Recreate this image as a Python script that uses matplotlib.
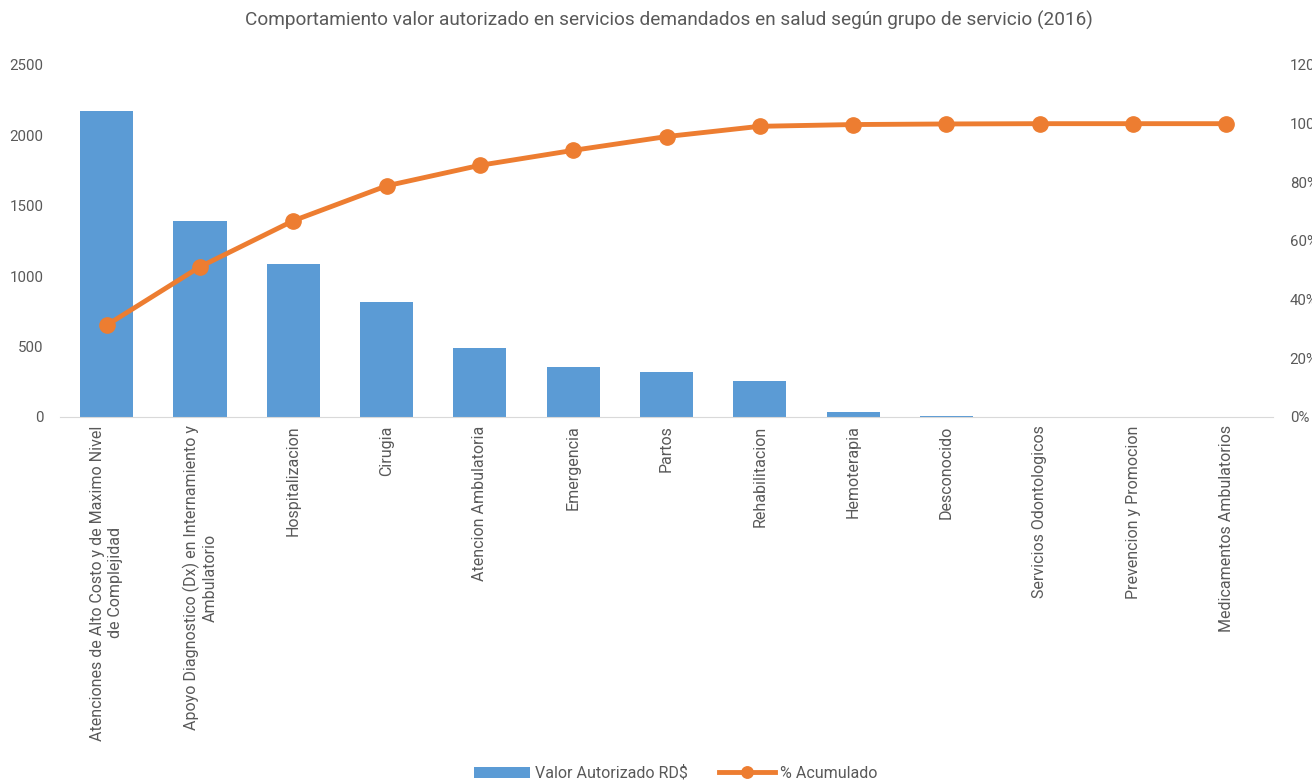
import matplotlib
matplotlib.use("Agg")
import matplotlib.pyplot as plt
from matplotlib.ticker import FuncFormatter

plt.rcParams["font.family"] = ["Roboto", "DejaVu Sans"]

CATEGORIES = [
    "Atenciones de Alto Costo y de Maximo Nivel\nde Complejidad",
    "Apoyo Diagnostico (Dx) en Internamiento y\nAmbulatorio",
    "Hospitalizacion",
    "Cirugia",
    "Atencion Ambulatoria",
    "Emergencia",
    "Partos",
    "Rehabilitacion",
    "Hemoterapia",
    "Desconocido",
    "Servicios Odontologicos",
    "Prevencion y Promocion",
    "Medicamentos Ambulatorios",
]
VALOR = [2173, 1392, 1087, 817, 490, 355, 320, 255, 36, 7, 3, 1, 0.5]
ACUMULADO = [31.3, 51.2, 66.9, 78.8, 85.8, 90.9, 95.6, 99.1, 99.7, 99.9, 100, 100, 100]

BLUE = "#5b9bd5"
ORANGE = "#ed7d31"
GREY = "#595959"

fig = plt.figure(figsize=(13.12, 7.84), dpi=100)
ax = fig.add_axes([60 / 1312, 1 - 417 / 784, (1273 - 60) / 1312, (417 - 65) / 784])
ax2 = ax.twinx()

x = range(len(CATEGORIES))
ax.bar(x, VALOR, width=0.57, color=BLUE, label="Valor Autorizado RD$", zorder=2)
ax2.plot(x, ACUMULADO, "-o", color=ORANGE, lw=3.5, ms=11, label="% Acumulado", zorder=3)

ax.set_xlim(-0.5, len(CATEGORIES) - 0.5)
ax.set_ylim(0, 2500)
ax.set_yticks(range(0, 2501, 500))
ax2.set_ylim(0, 120)
ax2.set_yticks(range(0, 121, 20))
ax2.yaxis.set_major_formatter(FuncFormatter(lambda v, _: f"{v:.0f}%"))

ax.set_xticks(list(x))
ax.set_xticklabels(CATEGORIES, rotation=90, ha="center", va="top",
                   multialignment="center", linespacing=1.25)

for a in (ax, ax2):
    for s in a.spines.values():
        s.set_visible(False)
    a.tick_params(length=0, colors=GREY, labelsize=10.8)
ax.spines["bottom"].set_visible(True)
ax.spines["bottom"].set_color("#d9d9d9")
ax.tick_params(axis="y", pad=12)
ax.tick_params(axis="x", pad=6, labelsize=11.5)
ax2.tick_params(axis="y", pad=12)
ax2.set_zorder(ax.get_zorder() + 1)

fig.text(669 / 1312, 1 - 20 / 784, "Comportamiento valor autorizado en servicios demandados en salud según grupo de servicio (2016)",
         ha="center", va="center", fontsize=13.7, color=GREY)

h1, l1 = ax.get_legend_handles_labels()
h2, l2 = ax2.get_legend_handles_labels()
fig.legend(h1 + h2, l1 + l2, loc="center", bbox_to_anchor=(0.515, 1 - 773 / 784), ncol=2,
           frameon=False, fontsize=11.5, labelcolor=GREY, handlelength=3.5,
           handleheight=0.7, columnspacing=2.0, handletextpad=0.3, markerscale=0.75)

fig.savefig("out.png", dpi=100)
